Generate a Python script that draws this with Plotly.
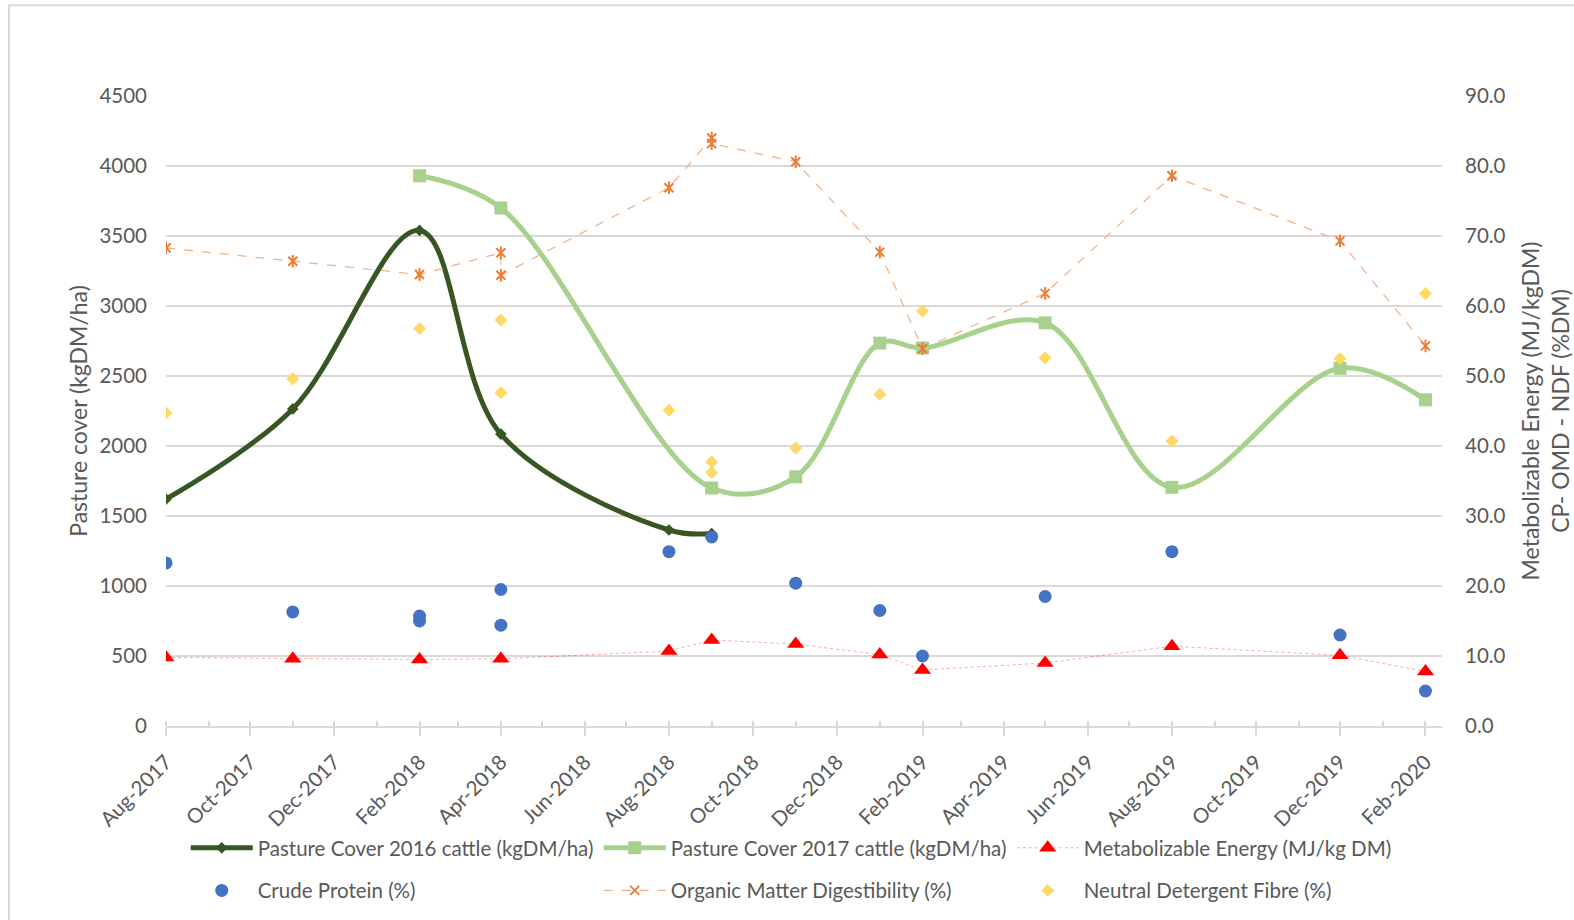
import plotly.graph_objects as go

# sampling dates
pc2016_dates = ["2017-08-01", "2017-11-01", "2018-02-01", "2018-04-01", "2018-08-01", "2018-09-01"]
pc2016_vals = [1620, 2265, 3540, 2085, 1400, 1375]

pc2017_dates = ["2018-02-01", "2018-04-01", "2018-09-01", "2018-11-01", "2019-01-01",
                "2019-02-01", "2019-05-01", "2019-08-01", "2019-12-01", "2020-02-01"]
pc2017_vals = [3930, 3700, 1700, 1780, 2735, 2700, 2880, 1705, 2555, 2330]

me_dates = ["2017-08-01", "2017-11-01", "2018-02-01", "2018-04-01", "2018-08-01", "2018-09-01",
            "2018-11-01", "2019-01-01", "2019-02-01", "2019-05-01", "2019-08-01", "2019-12-01", "2020-02-01"]
me_vals = [9.8, 9.6, 9.5, 9.6, 10.7, 12.3, 11.7, 10.2, 8.0, 9.0, 11.4, 10.1, 7.8]

# CP, OMD and NDF have two samples at some dates
lab_dates = ["2017-08-01", "2017-11-01", "2018-02-01", "2018-02-01", "2018-04-01", "2018-04-01",
             "2018-08-01", "2018-09-01", "2018-09-01", "2018-11-01", "2019-01-01", "2019-02-01",
             "2019-05-01", "2019-08-01", "2019-12-01", "2020-02-01"]
cp_vals = [23.3, 16.3, 15.7, 15.0, 19.5, 14.4, 24.9, 27.0, None, 20.4, 16.5, 10.0, 18.5, 24.9, 13.0, 5.0]
omd_dates = ["2017-08-01", "2017-11-01", "2018-02-01", "2018-04-01", "2018-04-01", "2018-08-01",
             "2018-09-01", "2018-09-01", "2018-11-01", "2019-01-01", "2019-02-01", "2019-05-01",
             "2019-08-01", "2019-12-01", "2020-02-01"]
omd_vals = [68.3, 66.4, 64.5, 67.6, 64.4, 76.9, 84.0, 83.2, 80.6, 67.7, 53.9, 61.8, 78.6, 69.3, 54.3]
ndf_vals = [44.7, 49.6, 56.8, None, 58.0, 47.6, 45.1, 37.7, 36.2, 39.7, 47.4, 59.3, 52.6, 40.7, 52.5, 61.8]

FONT = "Lato"
GREY = "#595959"
TXT = 20.5

fig = go.Figure()

fig.add_trace(go.Scatter(
    x=pc2016_dates, y=pc2016_vals, name="Pasture Cover 2016 cattle (kgDM/ha)",
    mode="lines+markers", line=dict(color="#375623", width=5, shape="spline", smoothing=1),
    marker=dict(symbol="diamond", size=9, color="#375623"), legend="legend"))
fig.add_trace(go.Scatter(
    x=pc2017_dates, y=pc2017_vals, name="Pasture Cover 2017 cattle (kgDM/ha)",
    mode="lines+markers", line=dict(color="#a9d18e", width=5, shape="spline", smoothing=1),
    marker=dict(symbol="square", size=13, color="#a9d18e"), legend="legend"))
fig.add_trace(go.Scatter(
    x=me_dates, y=me_vals, name="Metabolizable Energy (MJ/kg DM)", yaxis="y2",
    mode="lines+markers", line=dict(color="rgba(255,0,0,0.35)", width=1, dash="dot"),
    marker=dict(symbol="triangle-up", size=15, color="#ff0000"), legend="legend"))

fig.add_trace(go.Scatter(
    x=lab_dates, y=cp_vals, name="Crude Protein (%)", yaxis="y2", mode="markers",
    marker=dict(symbol="circle", size=13, color="#4472c4"), legend="legend2"))
fig.add_trace(go.Scatter(
    x=omd_dates, y=omd_vals, name="Organic Matter Digestibility (%)", yaxis="y2",
    mode="lines+markers", line=dict(color="#f4b183", width=1.25, dash="dash"),
    marker=dict(symbol="x-thin-open", size=9, color="#ed7d31", line=dict(color="#ed7d31", width=2)),
    legend="legend2"))
fig.add_trace(go.Scatter(
    x=omd_dates, y=omd_vals, yaxis="y2", mode="markers", showlegend=False, hoverinfo="skip",
    marker=dict(symbol="line-ns-open", size=9, color="#ed7d31", line=dict(color="#ed7d31", width=2))))
fig.add_trace(go.Scatter(
    x=lab_dates, y=ndf_vals, name="Neutral Detergent Fibre (%)", yaxis="y2", mode="markers",
    marker=dict(symbol="diamond", size=10, color="#ffd966"), legend="legend2"))

fig.update_layout(
    width=1574, height=920,
    margin=dict(l=166, r=132, t=96, b=194, autoexpand=False),
    paper_bgcolor="white", plot_bgcolor="white",
    font=dict(family=FONT, size=TXT, color=GREY),
    xaxis=dict(
        type="date", range=["2017-08-01", "2020-02-13"], automargin=False,
        tick0="2017-08-01", dtick="M2", tickformat="%b-%Y", tickangle=-45,
        showgrid=False, showline=True, linecolor="#d9d9d9", linewidth=2,
        ticks="outside", ticklen=8, tickwidth=1.5, tickcolor="#d9d9d9", ticklabelstandoff=6,
        minor=dict(dtick="M1", ticks="inside", ticklen=5, tickcolor="#d9d9d9", tickwidth=1.5, showgrid=False),
        tickfont=dict(size=TXT, color=GREY),
    ),
    yaxis=dict(
        range=[0, 4500], dtick=500, showgrid=True, gridcolor="#d9d9d9", gridwidth=1.5,
        zeroline=False, showline=False, ticklabelstandoff=18, automargin=False,
        tickfont=dict(size=TXT, color=GREY),
        title=dict(text="Pasture cover (kgDM/ha)", font=dict(size=23, color=GREY), standoff=5),
    ),
    yaxis2=dict(
        overlaying="y", side="right", range=[0, 90], dtick=10, tickformat=".1f",
        showgrid=False, zeroline=False, showline=False, ticklabelstandoff=22, automargin=False,
        tickfont=dict(size=TXT, color=GREY),
        title=dict(text="Metabolizable Energy (MJ/kgDM)<br>CP- OMD - NDF (%DM)",
                   font=dict(size=23, color=GREY), standoff=18),
    ),
    legend=dict(orientation="h", xref="container", yref="container", x=0.118, y=0.0783,
                xanchor="left", yanchor="middle", itemwidth=62, entrywidth=336,
                font=dict(size=TXT, color=GREY), bgcolor="rgba(0,0,0,0)"),
    legend2=dict(orientation="h", xref="container", yref="container", x=0.118, y=0.032,
                 xanchor="left", yanchor="middle", itemwidth=62, entrywidth=336,
                 font=dict(size=TXT, color=GREY), bgcolor="rgba(0,0,0,0)"),
    shapes=[dict(type="rect", xref="paper", yref="paper", x0=-0.123, x1=2, y0=-1, y1=1.144,
                 line=dict(color="#d9d9d9", width=2), fillcolor="rgba(0,0,0,0)", layer="below")],
    showlegend=True,
)

fig.write_html("out.html", config={"displayModeBar": False},
               post_script="document.body.style.margin='0';")
